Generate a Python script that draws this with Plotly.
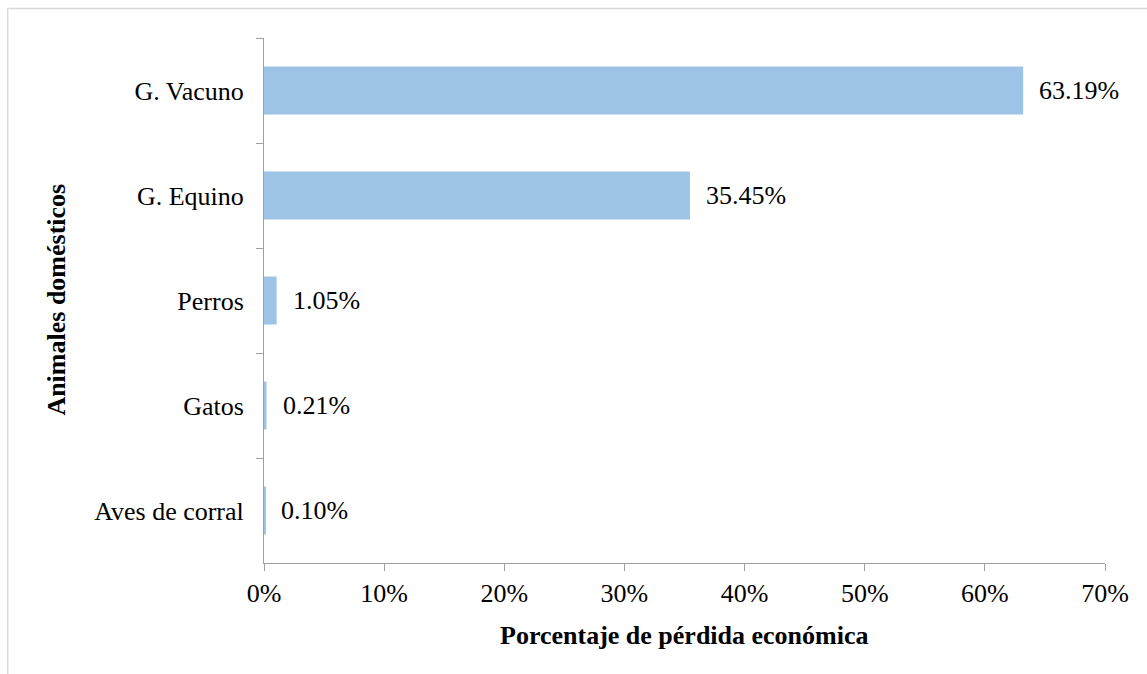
import plotly.graph_objects as go

categories = ["G. Vacuno", "G. Equino", "Perros", "Gatos", "Aves de corral"]
values = [63.19, 35.45, 1.05, 0.21, 0.10]
x_ticks = [0, 10, 20, 30, 40, 50, 60, 70]
x_tick_labels = ["0%", "10%", "20%", "30%", "40%", "50%", "60%", "70%"]

W, H = 1147, 674
L, R, T, B = 263.5, 42, 38, 111
pw = W - L - R
ph = H - T - B

FONT = "Liberation Serif, Times New Roman, serif"
FS = 26

fig = go.Figure()
fig.add_trace(go.Bar(
    x=values, y=categories, orientation="h",
    marker=dict(color="#9DC3E6", line=dict(width=0)),
    hoverinfo="skip",
))

for c, v in zip(categories, values):
    fig.add_annotation(x=v, y=c, xref="x", yref="y", text=f"{v:.2f}%",
                       showarrow=False, xanchor="left", yanchor="middle",
                       xshift=14, font=dict(family=FONT, size=FS, color="black"))

def px_x(p):
    return (p - L) / pw

def px_y(p):
    return (H - B - p) / ph

fig.add_annotation(x=px_x(684), y=px_y(635), xref="paper", yref="paper",
                   text="<b>Porcentaje de pérdida económica</b>", showarrow=False,
                   xanchor="center", yanchor="middle",
                   font=dict(family=FONT, size=FS, color="black"))
fig.add_annotation(x=px_x(55), y=px_y(300), xref="paper", yref="paper",
                   text="<b>Animales domésticos</b>", showarrow=False, textangle=-90,
                   xanchor="center", yanchor="middle",
                   font=dict(family=FONT, size=FS, color="black"))

fig.add_shape(type="rect", xref="paper", yref="paper",
              x0=px_x(7), x1=px_x(1152), y0=px_y(680), y1=px_y(8.5),
              line=dict(color="#d9d9d9", width=1.5), fillcolor="rgba(0,0,0,0)",
              layer="below")

fig.update_layout(
    width=W, height=H,
    margin=dict(l=L, r=R, t=T, b=B, pad=0),
    paper_bgcolor="white", plot_bgcolor="white",
    bargap=0.543,
    showlegend=False,
    font=dict(family=FONT, size=FS, color="black"),
    xaxis=dict(range=[0, 70], tickvals=x_ticks, ticktext=x_tick_labels,
               showgrid=False, zeroline=False, showline=True,
               linecolor="#a0a0a0", linewidth=1,
               ticks="outside", ticklen=7, tickcolor="#a0a0a0", tickwidth=1,
               ticklabelstandoff=0,
               tickfont=dict(family=FONT, size=FS, color="black")),
    yaxis=dict(categoryorder="array", categoryarray=categories, autorange="reversed",
               showgrid=False, zeroline=False, showline=True,
               linecolor="#a0a0a0", linewidth=1,
               ticks="outside", ticklen=7, tickcolor="#a0a0a0", tickwidth=1,
               tickson="boundaries", ticklabelstandoff=14,
               tickfont=dict(family=FONT, size=FS, color="black")),
)

fig.write_html("out.html")
